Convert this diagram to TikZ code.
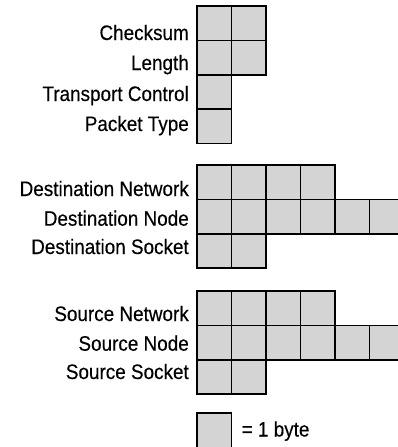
\documentclass[tikz,border=0pt]{standalone}
\usepackage{fontspec}
\setmainfont[FakeStretch=0.9,FakeBold=0.3]{Liberation Sans}
\begin{document}
\begin{tikzpicture}[x=1pt,y=-1pt,
  cell/.style={draw=black,fill=black!17,line width=1.6pt,minimum width=34.5pt,minimum height=34.4pt,inner sep=0pt,outer sep=0pt,anchor=north west},
  lab/.style={anchor=base east,inner sep=0pt,font=\fontsize{21}{23}\selectfont}]
\useasboundingbox (0,0) rectangle (397,447);
% rows: name / top / count / label / baseline
\foreach \nm/\top/\n/\txt/\bl in {
  ck/6/2/Checksum/40,
  ln/40.4/2/Length/70,
  tc/74.8/1/Transport Control/101,
  pt/109.2/1/Packet Type/131,
  dn/165/4/Destination Network/196,
  dd/199.4/6/Destination Node/225.7,
  ds/233.8/2/Destination Socket/254,
  sn/291/4/Source Network/321,
  sd/325.4/6/Source Node/350.7,
  ss/359.8/2/Source Socket/379}{
  \node[lab] (\nm-label) at (189,\bl) {\txt};
  \foreach \i in {1,...,\n}{
    \node[cell] (\nm-\i) at ({197+34.5*(\i-1)},\top) {};
  }
}
\node[cell] (key) at (197,413) {};
\node[lab,anchor=base west] (keytext) at (241.5,436.5) {= 1 byte};
\end{tikzpicture}
\end{document}
